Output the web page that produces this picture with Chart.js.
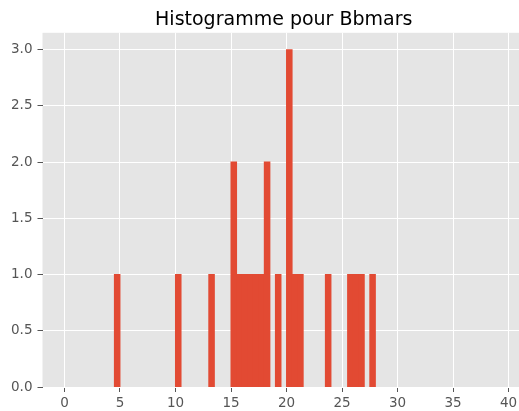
<!DOCTYPE html>
<html>
<head>
<meta charset="utf-8">
<title>Histogramme pour Bbmars</title>
<script src="https://cdn.jsdelivr.net/npm/chart.js@4.4.0/dist/chart.umd.min.js"></script>
<style>
  html, body { margin: 0; padding: 0; background: #fff; overflow: hidden; }
  #wrap { width: 525px; height: 411px; }
</style>
</head>
<body>
<div id="wrap"><canvas id="hist-chart" width="525" height="411"></canvas></div>
<script>
// histogram bins (left edge of each non-empty bin) and counts
var binWidth = 0.5;
var binLeft = [4.5, 10.0, 13.0, 15.0, 15.5, 16.0, 16.5, 17.0, 17.5, 18.0, 19.0, 20.0, 20.5, 21.0, 23.5, 25.5, 26.0, 26.5, 27.5];
var counts  = [1,   1,    1,    2,    1,    1,    1,    1,    1,    2,    1,    3,    1,    1,    1,    1,    1,    1,    1];
var xTicks = [0, 5, 10, 15, 20, 25, 30, 35, 40];
var yTicks = [0.0, 0.5, 1.0, 1.5, 2.0, 2.5, 3.0];

var barColor = '#E24A33';
var tickColor = '#555555';
var fontFamily = "'DejaVu Sans', sans-serif";

var points = [];
for (var i = 0; i < binLeft.length; i++) {
    points.push({ x: binLeft[i] + binWidth / 2, y: counts[i] });
}

// grey panel behind the plot, like ggplot style
var panelBg = {
    id: 'panelBg',
    beforeDraw: function (chart) {
        var a = chart.chartArea;
        var ctx = chart.ctx;
        ctx.save();
        ctx.fillStyle = '#E5E5E5';
        ctx.fillRect(a.left, a.top, a.right - a.left, a.bottom - a.top);
        ctx.restore();
    }
};

var configBar = {
    type: 'bar',
    data: {
        datasets: [{
            data: points,
            backgroundColor: barColor,
            borderWidth: 0,
            inflateAmount: 0.5,
            barPercentage: 1.0,
            categoryPercentage: 1.0
        }]
    },
    options: {
        responsive: false,
        animation: false,
        layout: { padding: 0 },
        plugins: {
            legend: { display: false },
            tooltip: { enabled: false },
            title: {
                display: true,
                text: 'Histogramme pour Bbmars',
                color: '#000000',
                fullSize: false,
                font: { family: fontFamily, size: 19, weight: 'normal' },
                padding: { top: 9, bottom: 1 }
            }
        },
        scales: {
            x: {
                type: 'linear',
                min: -1.975,
                max: 41.475,
                offset: false,
                border: { display: false },
                grid: { color: '#FFFFFF', lineWidth: 1, offset: false, tickColor: tickColor, tickLength: 5 },
                afterBuildTicks: function (scale) {
                    scale.ticks = xTicks.map(function (v) { return { value: v }; });
                },
                afterFit: function (scale) { scale.height = 24; },
                ticks: {
                    color: tickColor,
                    padding: 3,
                    maxRotation: 0,
                    font: { family: fontFamily, size: 13.5 },
                    callback: function (v) { return String(v); }
                }
            },
            y: {
                min: 0,
                max: 3.15,
                border: { display: false },
                grid: { color: '#FFFFFF', lineWidth: 1, tickColor: tickColor, tickLength: 5 },
                afterBuildTicks: function (scale) {
                    scale.ticks = yTicks.map(function (v) { return { value: v }; });
                },
                afterFit: function (scale) { scale.width = 42.5; },
                ticks: {
                    color: tickColor,
                    padding: 5,
                    font: { family: fontFamily, size: 13.5 },
                    callback: function (v) { return Number(v).toFixed(1); }
                }
            }
        }
    },
    plugins: [panelBg]
};

var myChartBar = document.getElementById('hist-chart').getContext('2d');
var myBar = new Chart(myChartBar, configBar);
</script>
</body>
</html>
